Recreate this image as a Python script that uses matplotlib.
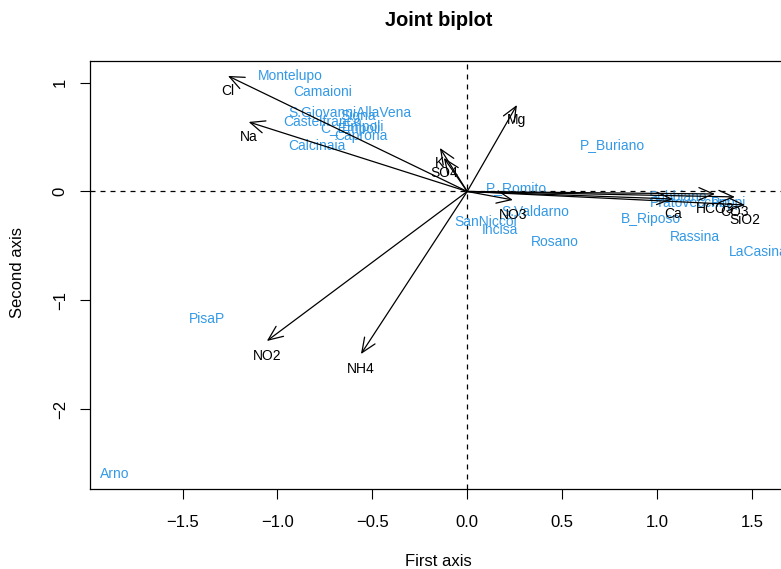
import numpy as np
import matplotlib
matplotlib.use("Agg")
import matplotlib.pyplot as plt

plt.rcParams['font.family'] = ['Liberation Sans', 'DejaVu Sans']

# sites (blue labels)
sites = ["Montelupo", "Camaioni", "S.GiovanniAllaVena", "Signa", "Castelfranco",
         "C_Empoli", "Empoli", "Caprona", "Calcinaia", "P_Buriano", "P_Romito",
         "S.Valdarno", "SanNiccol", "Incisa", "Rosano", "B_Riposo", "Subbiano",
         "Pratovecchio", "Poppi", "Rassina", "LaCasina", "PisaP", "Arno"]
site_x = [-0.933, -0.764, -0.619, -0.575, -0.764, -0.616, -0.548, -0.561, -0.792,
          0.768, 0.257, 0.357, 0.099, 0.172, 0.462, 0.970, 1.110, 1.173, 1.379,
          1.200, 1.532, -1.372, -1.857]
site_y = [1.062, 0.915, 0.720, 0.690, 0.640, 0.574, 0.593, 0.511, 0.419,
          0.425, 0.032, -0.188, -0.280, -0.354, -0.464, -0.253, -0.050, -0.106, -0.106,
          -0.418, -0.556, -1.172, -2.596]

# variables (black arrows)
variables = ["Cl", "Na", "K", "SO4", "Mg", "NO3", "Ca", "HCO3", "CO3", "SiO2", "NO2", "NH4"]
var_x = [-1.261, -1.152, -0.144, -0.123, 0.262, 0.241, 1.084, 1.306, 1.411, 1.464, -1.056, -0.560]
var_y = [1.062, 0.639, 0.400, 0.309, 0.795, -0.078, -0.069, -0.023, -0.050, -0.124, -1.374, -1.494]

xticks = [-1.5, -1.0, -0.5, 0.0, 0.5, 1.0, 1.5]
yticks = [-2, -1, 0, 1]

W, H = 781, 569
fig = plt.figure(figsize=(W / 100, H / 100), dpi=100)
# plot box in pixels: left 90, right beyond the image, top 61, bottom 489
ax = fig.add_axes([90 / W, (H - 489) / H, (830 - 90) / W, (489 - 61) / H])
ax.set_xlim(-1.988, 1.912)
ax.set_ylim(-2.734, 1.199)

ax.axhline(0, color="black", lw=0.9, ls=(0, (4, 4)))
ax.axvline(0, color="black", lw=0.9, ls=(0, (4, 4)))

blue = "#3399E6"
for name, x, y in zip(sites, site_x, site_y):
    ax.text(x, y, name, color=blue, fontsize=10, ha="center", va="center")

for name, x, y in zip(variables, var_x, var_y):
    ax.annotate("", xy=(x, y), xytext=(0, 0),
                arrowprops=dict(arrowstyle="->,head_length=0.75,head_width=0.32",
                                lw=0.9, color="black", shrinkA=0, shrinkB=0,
                                mutation_scale=14))
    ax.annotate(name, xy=(x, y), xytext=(0, -15), textcoords="offset pixels",
                ha="center", va="center", fontsize=10, color="black")

ax.set_xticks(xticks)
ax.set_xticklabels([("%.1f" % v).replace("-", "\u2212") for v in xticks])
ax.set_yticks(yticks)
ax.set_yticklabels([str(v).replace("-", "\u2212") for v in yticks])
ax.tick_params(axis="both", length=7, width=0.8, labelsize=12)
ax.tick_params(axis="x", pad=12)
ax.tick_params(axis="y", pad=9, labelrotation=90)
for lab in ax.get_yticklabels():
    lab.set_va("center")
for sp in ax.spines.values():
    sp.set_linewidth(0.9)

fig.text(438.5 / W, 1 - 20 / H, "Joint biplot", ha="center", va="center",
         fontsize=14.4, fontweight="bold")
fig.text(438 / W, 1 - 561 / H, "First axis", ha="center", va="center", fontsize=12)
fig.text(18 / W, 1 - 272 / H, "Second axis", ha="center", va="center",
         rotation=90, fontsize=12)

fig.savefig("out.png", dpi=100)
